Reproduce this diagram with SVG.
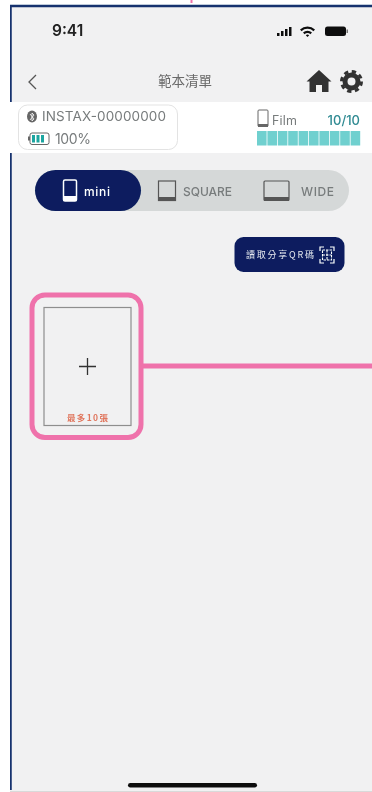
<svg xmlns="http://www.w3.org/2000/svg" width="372" height="792" viewBox="0 0 372 792">
<defs><filter id="soft" x="0" y="0" width="100%" height="100%"><feGaussianBlur stdDeviation="0.35"/></filter></defs>
<style>
.s{font-family:"Inter","Liberation Sans",sans-serif}
.c{font-family:"Noto Sans CJK TC","Liberation Sans",sans-serif}
.g{fill:#777b7c}
.pk{fill:none;stroke:#ef72ab;stroke-width:5}
</style>
<rect width="372" height="792" fill="#fff"/>
<g filter="url(#soft)">
<rect x="10" y="6" width="362" height="786" fill="#f1f1f2"/>
<path d="M372 6H10.500V790" fill="none" stroke="#14306e" stroke-width="2.500"/>
<path d="M191.500 0v3" stroke="#ef72ab" stroke-width="2"/>
<path d="M10 791.500H372" stroke="#d9d9d9" stroke-width="1"/>
<g id="status">
<text class="s" x="52" y="36" font-size="15.500" font-weight="600" fill="#222">9:41</text>
<g fill="#111"><rect x="277" y="33" width="2.500" height="3"/><rect x="281" y="31" width="2.500" height="5"/><rect x="285" y="29" width="2.500" height="7"/><rect x="289" y="27" width="2.500" height="9"/>
<path d="M300 29.500a11 11 0 0 1 15 0l-1.500 1.700a8.500 8.500 0 0 0-12 0zM303 32.500a6.500 6.500 0 0 1 9 0l-1.600 1.700a4 4 0 0 0-5.800 0zM305.800 35.300a2.500 2.500 0 0 1 3.400 0l-1.700 1.700z"/>
<rect x="325" y="26.500" width="21" height="9.500" rx="2.500"/><rect x="346.500" y="29.500" width="1.500" height="3.500" fill="#777"/></g>
</g>
<g id="nav">
<path d="M36 75l-7 7 7 7" fill="none" stroke="#555" stroke-width="1.300"/>
<text class="c" x="185" y="86" font-size="13.500" fill="#6a6a6a" text-anchor="middle">範本清單</text>
<path d="M319 70l12.500 11.500h-3V92h-6.500v-7h-6v7h-6.500V81.500h-3z" fill="#333"/>
<circle cx="351.500" cy="81.500" r="6.500" fill="none" stroke="#333" stroke-width="5"/>
<circle cx="351.500" cy="81.500" r="10" fill="none" stroke="#333" stroke-width="3" stroke-dasharray="4.300 3.550"/>
</g>
<g id="infobar">
<rect x="10" y="102" width="362" height="51" fill="#fff"/>
<rect x="18.500" y="105" width="159" height="44.500" rx="9" fill="#fff" stroke="#e3e3e3"/>
<ellipse cx="32" cy="116.500" rx="5" ry="6" fill="#666"/>
<path d="M30 114l4 5-2 2v-8l2 2-4 5" fill="none" stroke="#fff" stroke-width=".8"/>
<text class="s g" x="42" y="121" font-size="13.500" textLength="124">INSTAX-00000000</text>
<rect x="30" y="133" width="19" height="11.500" rx="2" fill="#fff" stroke="#666"/>
<rect x="28" y="136.500" width="2" height="4" fill="#666"/>
<path d="M33.500 135v7.500M38 135v7.500M42.500 135v7.500" stroke="#1fa5a0" stroke-width="3"/>
<text class="s g" x="55" y="144" font-size="14" textLength="36">100%</text>
<rect x="258" y="110" width="10" height="16.500" rx="1" fill="#fff" stroke="#666"/>
<rect x="258" y="124" width="10" height="3" fill="#666"/>
<text class="s g" x="272" y="125" font-size="12.500" textLength="25">Film</text>
<text class="s" x="360" y="125" font-size="13" font-weight="500" fill="#2f8a92" text-anchor="end">10/10</text>
<g fill="#6fd0cf"><rect x="257" y="131" width="9.600" height="14.500"/><rect x="267.400" y="131" width="9.600" height="14.500"/><rect x="277.800" y="131" width="9.600" height="14.500"/><rect x="288.200" y="131" width="9.600" height="14.500"/><rect x="298.600" y="131" width="9.600" height="14.500"/><rect x="309" y="131" width="9.600" height="14.500"/><rect x="319.400" y="131" width="9.600" height="14.500"/><rect x="329.800" y="131" width="9.600" height="14.500"/><rect x="340.200" y="131" width="9.600" height="14.500"/><rect x="350.600" y="131" width="9.600" height="14.500"/></g>
</g>
<g id="tabs">
<rect x="35" y="170" width="314" height="41" rx="20.500" fill="#d5d8d8"/>
<rect x="35" y="170" width="106" height="41" rx="20.500" fill="#0a1f5e"/>
<rect x="63.500" y="180" width="13" height="21" rx="1.500" fill="none" stroke="#fff" stroke-width="1.500"/>
<rect x="63.500" y="196" width="13" height="5" fill="#fff"/>
<text class="s" x="84" y="195.500" font-size="12" font-weight="500" fill="#fff" textLength="26">mini</text>
<rect x="158.500" y="181" width="17" height="19.500" fill="none" stroke="#555" stroke-width="1.200"/>
<rect x="158.500" y="197" width="17" height="4" fill="#555"/>
<text class="s g" x="183" y="195.500" font-size="12" font-weight="500" textLength="49">SQUARE</text>
<rect x="264" y="181" width="25" height="19.500" rx="1" fill="none" stroke="#555" stroke-width="1.200"/>
<rect x="264" y="197" width="25" height="4" fill="#555"/>
<text class="s g" x="301" y="195.500" font-size="12" font-weight="500" textLength="33">WIDE</text>
</g>
<g id="qr-button">
<rect x="234.500" y="237" width="110" height="35" rx="9" fill="#0a1f5e"/>
<text class="c" x="246" y="258" font-size="9" fill="#e8e8f0" textLength="68">讀取分享QR碼</text>
<path d="M320 251v-4h4M330 247h4v4M334 259v4h-4M324 263h-4v-4" fill="none" stroke="#fff" stroke-width="1.200"/>
<path d="M322.500 250h9v10h-9zM327 250v10M322.500 255h9" fill="none" stroke="#fff" stroke-width="1.100" stroke-dasharray="2.500 1"/>
</g>
<g id="add-card">
<rect x="44" y="307.500" width="87" height="118" fill="#f1f1f2" stroke="#8e8e8e" stroke-width="1.200"/>
<path d="M87.500 358v17M79 366.500h17" stroke="#333" stroke-width="1.300"/>
<text class="c" x="67" y="420.500" font-size="8.500" font-weight="700" fill="#e0775f" textLength="41">最多10張</text>
</g>
<g id="highlight"><rect class="pk" x="32" y="295" width="109" height="142.500" rx="13"/></g>
<g id="connectors"><path class="pk" d="M143 366H372"/></g>
<rect id="home-bar" x="128" y="783" width="129" height="4.500" rx="2.250" fill="#111"/>
</g>
</svg>
